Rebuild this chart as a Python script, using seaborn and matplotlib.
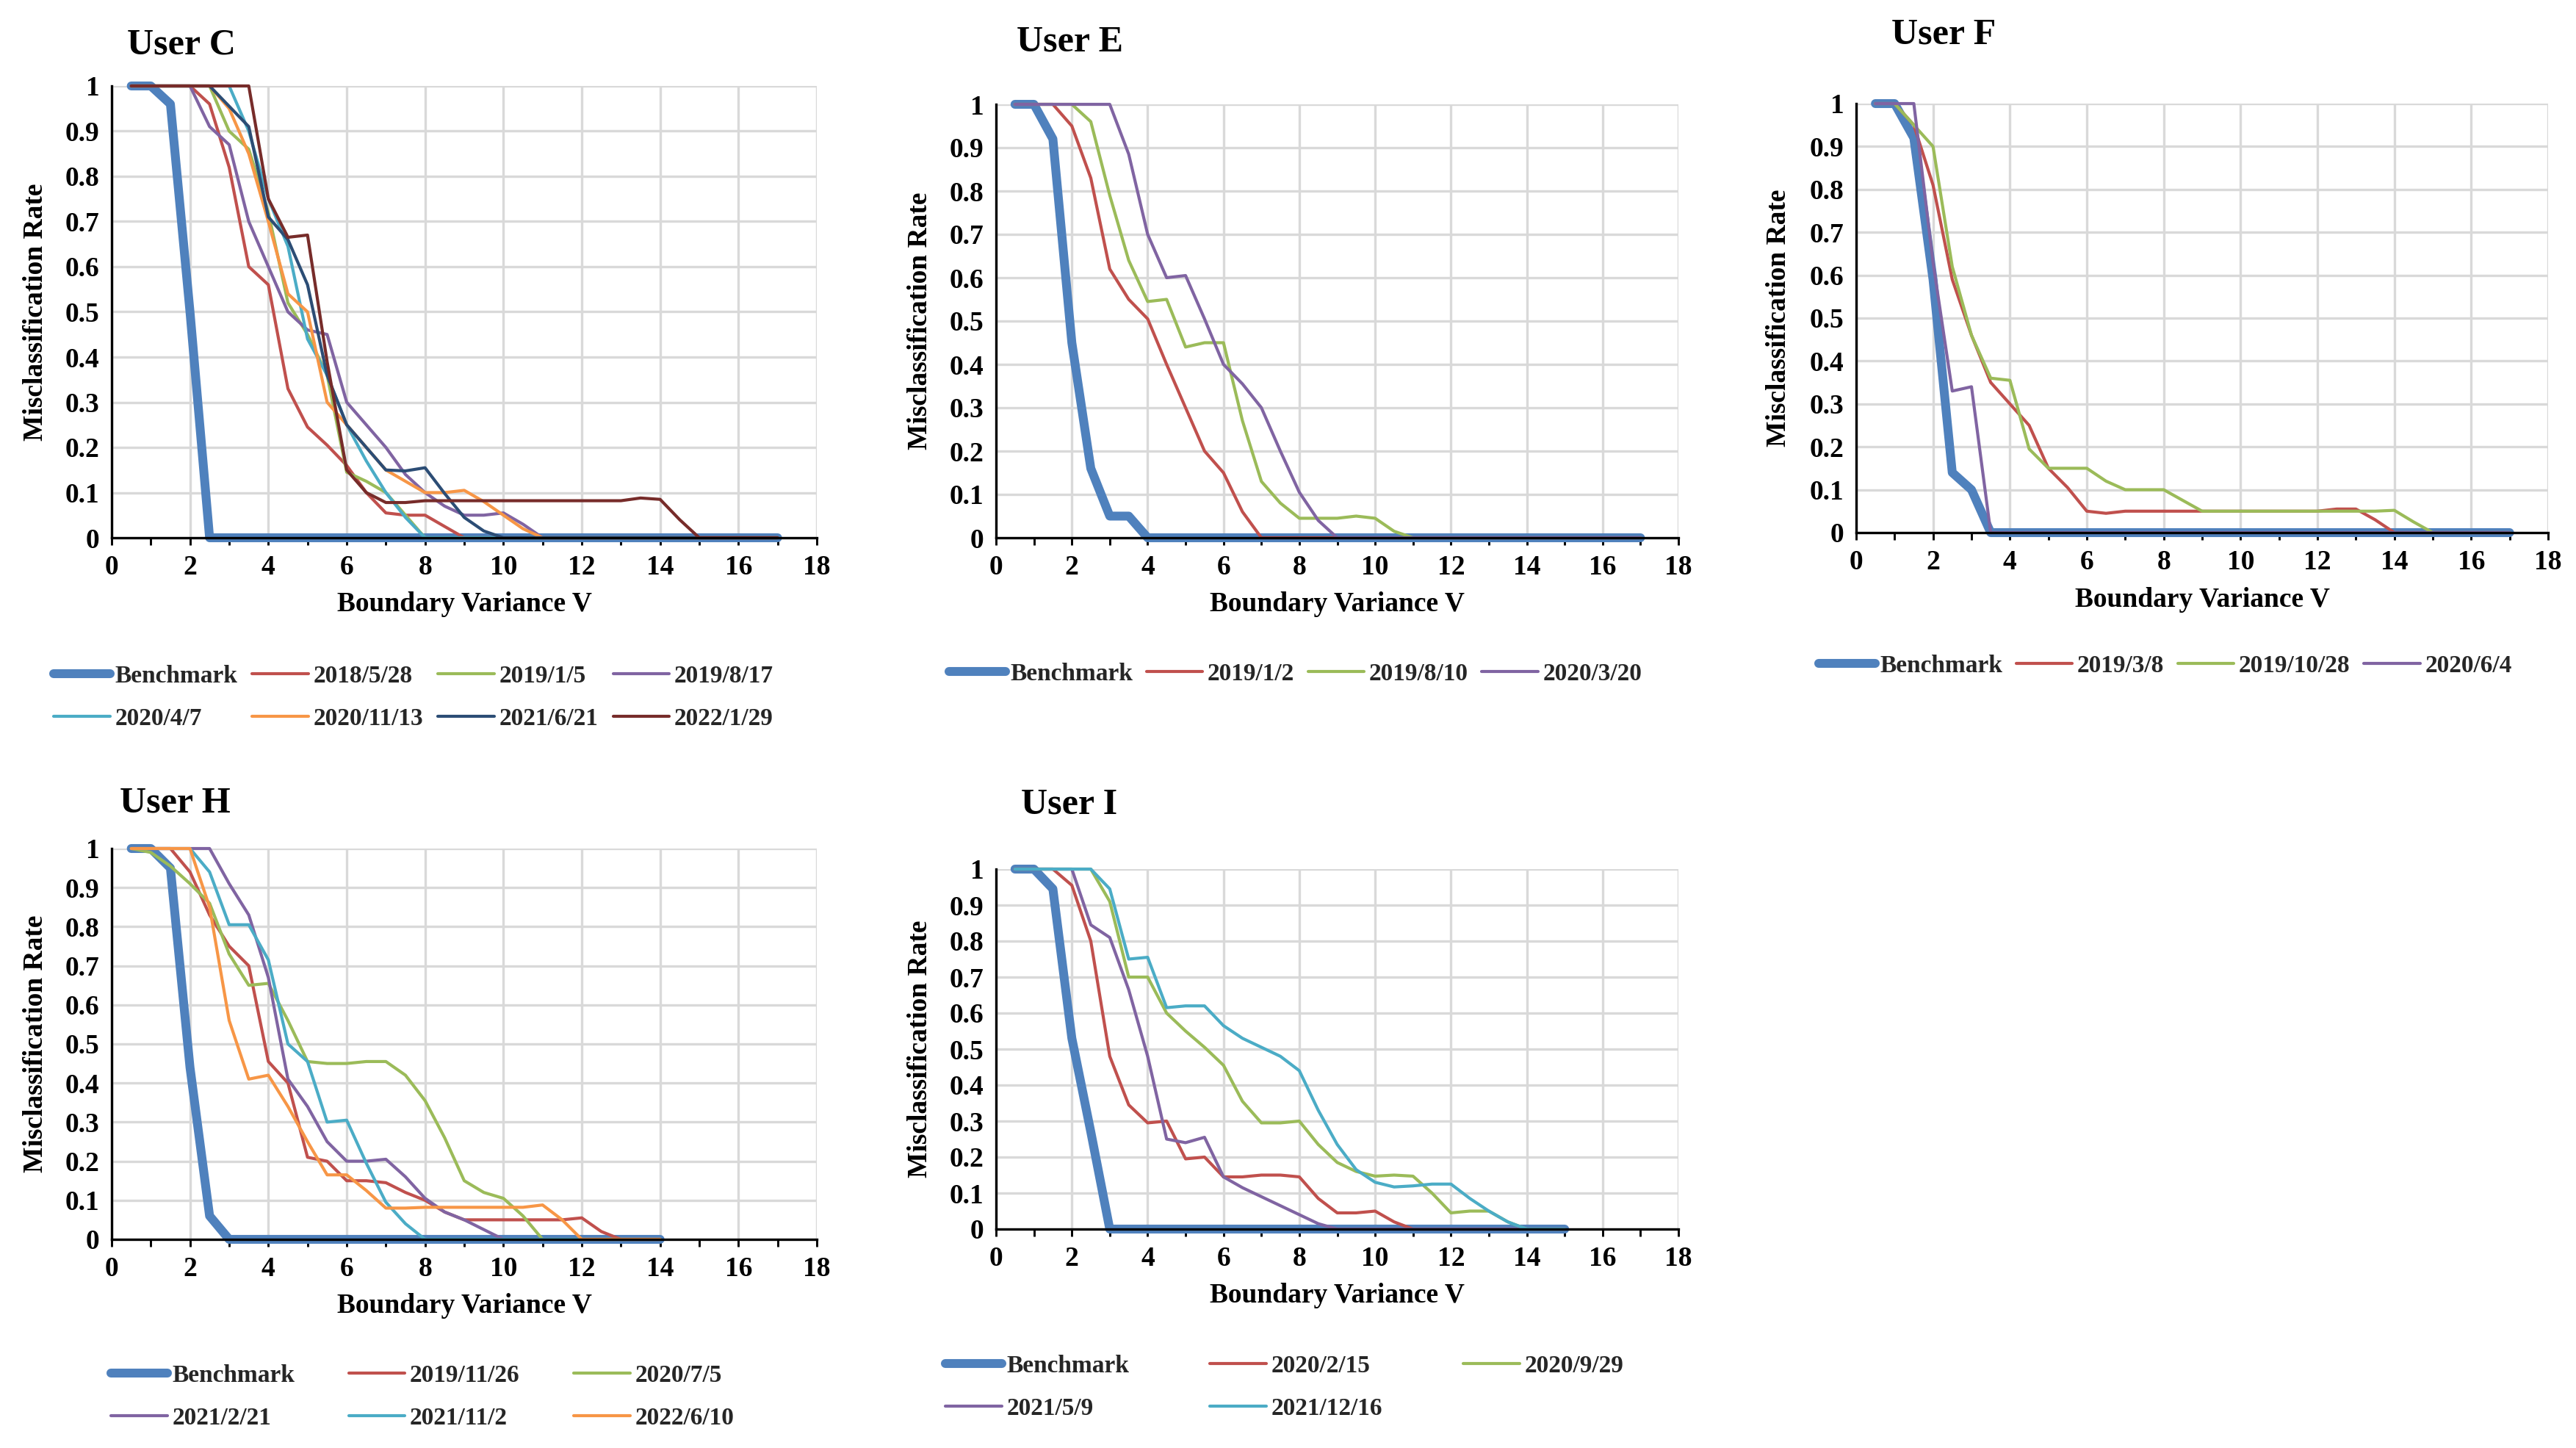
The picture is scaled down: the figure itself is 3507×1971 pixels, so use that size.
import numpy as np
import matplotlib
matplotlib.use("Agg")
import matplotlib.pyplot as plt
import seaborn as sns

# ---------------- data ----------------
X_C = np.arange(0.5, 17.01, 0.5)
X_E = np.arange(0.5, 17.01, 0.5)
X_F = np.arange(0.5, 17.01, 0.5)
X_H = np.arange(0.5, 14.01, 0.5)
X_I = np.arange(0.5, 15.01, 0.5)

# User C
C_names = ["Benchmark", "2018/5/28", "2019/1/5", "2019/8/17",
           "2020/4/7", "2020/11/13", "2021/6/21", "2022/1/29"]
C_bench = [1, 1, 0.96, 0.5, 0, 0, 0, 0, 0, 0,
           0, 0, 0, 0, 0, 0, 0, 0, 0, 0,
           0, 0, 0, 0, 0, 0, 0, 0, 0, 0,
           0, 0, 0, 0]
C_2018_5_28 = [1, 1, 1, 1, 0.96, 0.82, 0.6, 0.56, 0.33, 0.245,
               0.205, 0.16, 0.1, 0.055, 0.05, 0.05, 0.025, 0, 0, 0,
               0, 0, 0, 0, 0, 0, 0, 0, 0, 0,
               0, 0, 0, 0]
C_2019_1_5 = [1, 1, 1, 1, 1, 0.9, 0.86, 0.72, 0.52, 0.45,
              0.36, 0.145, 0.125, 0.1, 0.05, 0, 0, 0, 0, 0,
              0, 0, 0, 0, 0, 0, 0, 0, 0, 0,
              0, 0, 0, 0]
C_2019_8_17 = [1, 1, 1, 1, 0.91, 0.87, 0.7, 0.6, 0.5, 0.46,
               0.45, 0.3, 0.25, 0.2, 0.14, 0.1, 0.07, 0.05, 0.05, 0.055,
               0.03, 0, 0, 0, 0, 0, 0, 0, 0, 0,
               0, 0, 0, 0]
C_2020_4_7 = [1, 1, 1, 1, 1, 1, 0.9, 0.75, 0.645, 0.44,
              0.36, 0.25, 0.17, 0.1, 0.045, 0, 0, 0, 0, 0,
              0, 0, 0, 0, 0, 0, 0, 0, 0, 0,
              0, 0, 0, 0]
C_2020_11_13 = [1, 1, 1, 1, 1, 0.95, 0.85, 0.7, 0.54, 0.5,
                0.3, 0.25, 0.2, 0.15, 0.125, 0.1, 0.1, 0.105, 0.08, 0.05,
                0.02, 0, 0, 0, 0, 0, 0, 0, 0, 0,
                0, 0, 0, 0]
C_2021_6_21 = [1, 1, 1, 1, 1, 0.955, 0.91, 0.71, 0.66, 0.56,
               0.36, 0.25, 0.2, 0.15, 0.148, 0.155, 0.098, 0.045, 0.015, 0,
               0, 0, 0, 0, 0, 0, 0, 0, 0, 0,
               0, 0, 0, 0]
C_2022_1_29 = [1, 1, 1, 1, 1, 1, 1, 0.75, 0.665, 0.67,
               0.39, 0.15, 0.1, 0.078, 0.078, 0.082, 0.082, 0.082, 0.082, 0.082,
               0.082, 0.082, 0.082, 0.082, 0.082, 0.082, 0.088, 0.085, 0.04, 0,
               0, 0, 0, 0]

# User E
E_names = ["Benchmark", "2019/1/2", "2019/8/10", "2020/3/20"]
E_bench = [1, 1, 0.92, 0.45, 0.16, 0.05, 0.05, 0, 0, 0,
           0, 0, 0, 0, 0, 0, 0, 0, 0, 0,
           0, 0, 0, 0, 0, 0, 0, 0, 0, 0,
           0, 0, 0, 0]
E_2019_1_2 = [1, 1, 1, 0.95, 0.83, 0.62, 0.55, 0.505, 0.4, 0.3,
              0.2, 0.15, 0.06, 0, 0, 0, 0, 0, 0, 0,
              0, 0, 0, 0, 0, 0, 0, 0, 0, 0,
              0, 0, 0, 0]
E_2019_8_10 = [1, 1, 1, 1, 0.96, 0.79, 0.64, 0.545, 0.55, 0.44,
               0.45, 0.45, 0.27, 0.13, 0.08, 0.045, 0.045, 0.045, 0.05, 0.045,
               0.015, 0, 0, 0, 0, 0, 0, 0, 0, 0,
               0, 0, 0, 0]
E_2020_3_20 = [1, 1, 1, 1, 1, 1, 0.885, 0.7, 0.6, 0.605,
               0.505, 0.4, 0.355, 0.3, 0.2, 0.105, 0.04, 0, 0, 0,
               0, 0, 0, 0, 0, 0, 0, 0, 0, 0,
               0, 0, 0, 0]

# User F
F_names = ["Benchmark", "2019/3/8", "2019/10/28", "2020/6/4"]
F_bench = [1, 1, 0.92, 0.59, 0.14, 0.1, 0, 0, 0, 0,
           0, 0, 0, 0, 0, 0, 0, 0, 0, 0,
           0, 0, 0, 0, 0, 0, 0, 0, 0, 0,
           0, 0, 0, 0]
F_2019_3_8 = [1, 1, 0.95, 0.81, 0.59, 0.46, 0.35, 0.3, 0.25, 0.15,
              0.105, 0.05, 0.045, 0.05, 0.05, 0.05, 0.05, 0.05, 0.05, 0.05,
              0.05, 0.05, 0.05, 0.05, 0.055, 0.055, 0.03, 0, 0, 0,
              0, 0, 0, 0]
F_2019_10_28 = [1, 1, 0.95, 0.9, 0.62, 0.46, 0.36, 0.355, 0.195, 0.15,
                0.15, 0.15, 0.12, 0.1, 0.1, 0.1, 0.075, 0.05, 0.05, 0.05,
                0.05, 0.05, 0.05, 0.05, 0.05, 0.05, 0.05, 0.052, 0.025, 0,
                0, 0, 0, 0]
F_2020_6_4 = [1, 1, 1, 0.63, 0.33, 0.34, 0, 0, 0, 0,
              0, 0, 0, 0, 0, 0, 0, 0, 0, 0,
              0, 0, 0, 0, 0, 0, 0, 0, 0, 0,
              0, 0, 0, 0]

# User H
H_names = ["Benchmark", "2019/11/26", "2020/7/5", "2021/2/21", "2021/11/2", "2022/6/10"]
H_bench = [1, 1, 0.95, 0.44, 0.06, 0, 0, 0, 0, 0,
           0, 0, 0, 0, 0, 0, 0, 0, 0, 0,
           0, 0, 0, 0, 0, 0, 0, 0]
H_2019_11_26 = [1, 1, 1, 0.94, 0.83, 0.75, 0.7, 0.455, 0.4, 0.21,
                0.2, 0.15, 0.15, 0.145, 0.12, 0.1, 0.07, 0.05, 0.05, 0.05,
                0.05, 0.05, 0.05, 0.055, 0.02, 0, 0, 0]
H_2020_7_5 = [1, 0.99, 0.955, 0.91, 0.86, 0.73, 0.65, 0.655, 0.56, 0.455,
              0.45, 0.45, 0.455, 0.455, 0.42, 0.355, 0.26, 0.15, 0.12, 0.105,
              0.06, 0, 0, 0, 0, 0, 0, 0]
H_2021_2_21 = [1, 1, 1, 1, 1, 0.91, 0.83, 0.67, 0.41, 0.34,
               0.25, 0.2, 0.2, 0.205, 0.16, 0.105, 0.07, 0.05, 0.025, 0,
               0, 0, 0, 0, 0, 0, 0, 0]
H_2021_11_2 = [1, 1, 1, 1, 0.94, 0.805, 0.805, 0.715, 0.5, 0.455,
               0.3, 0.305, 0.195, 0.095, 0.04, 0, 0, 0, 0, 0,
               0, 0, 0, 0, 0, 0, 0, 0]
H_2022_6_10 = [1, 1, 1, 1, 0.85, 0.56, 0.41, 0.42, 0.34, 0.25,
               0.165, 0.165, 0.125, 0.08, 0.08, 0.082, 0.082, 0.082, 0.082, 0.082,
               0.082, 0.088, 0.05, 0, 0, 0, 0, 0]

# User I
I_names = ["Benchmark", "2020/2/15", "2020/9/29", "2021/5/9", "2021/12/16"]
I_bench = [1, 1, 0.945, 0.53, 0.27, 0, 0, 0, 0, 0,
           0, 0, 0, 0, 0, 0, 0, 0, 0, 0,
           0, 0, 0, 0, 0, 0, 0, 0, 0, 0]
I_2020_2_15 = [1, 1, 1, 0.955, 0.8, 0.48, 0.345, 0.295, 0.3, 0.195,
               0.2, 0.145, 0.145, 0.15, 0.15, 0.145, 0.085, 0.045, 0.045, 0.05,
               0.02, 0, 0, 0, 0, 0, 0, 0, 0, 0]
I_2020_9_29 = [1, 1, 1, 1, 1, 0.91, 0.7, 0.7, 0.6, 0.55,
               0.505, 0.455, 0.355, 0.295, 0.295, 0.3, 0.235, 0.185, 0.16, 0.147,
               0.15, 0.147, 0.1, 0.045, 0.05, 0.05, 0.02, 0, 0, 0]
I_2021_5_9 = [1, 1, 1, 1, 0.845, 0.81, 0.665, 0.48, 0.25, 0.24,
              0.255, 0.145, 0.115, 0.09, 0.065, 0.04, 0.015, 0, 0, 0,
              0, 0, 0, 0, 0, 0, 0, 0, 0, 0]
I_2021_12_16 = [1, 1, 1, 1, 1, 0.945, 0.75, 0.755, 0.615, 0.62,
                0.62, 0.565, 0.53, 0.505, 0.48, 0.44, 0.33, 0.235, 0.165, 0.13,
                0.117, 0.12, 0.125, 0.125, 0.085, 0.05, 0.02, 0, 0, 0]

X_TICKS = [0, 2, 4, 6, 8, 10, 12, 14, 16, 18]
Y_TICKS = [0, 0.1, 0.2, 0.3, 0.4, 0.5, 0.6, 0.7, 0.8, 0.9, 1]
Y_TICK_LABELS = ["0", "0.1", "0.2", "0.3", "0.4", "0.5", "0.6", "0.7", "0.8", "0.9", "1"]

BLUE, RED, GREEN, PURPLE = "#4F81BD", "#C0504D", "#9BBB59", "#8064A2"
CYAN, ORANGE, NAVY, DARKRED = "#4BACC6", "#F79646", "#2C4D75", "#772C2A"

# ---------------- style ----------------
sns.set_theme(style="white")
plt.rcParams["font.family"] = ["Liberation Serif", "DejaVu Serif"]
plt.rcParams["font.weight"] = "bold"
plt.rcParams["axes.labelweight"] = "bold"

W, H = 3507, 1971
fig = plt.figure(figsize=(W / 300, H / 300), dpi=300)
fig.patch.set_facecolor("white")


def px_rect(l, t, r, b):
    return [l / W, 1 - b / H, (r - l) / W, (b - t) / H]


panels = [
    dict(title="User C", tpos=(173, 61), rect=px_rect(152, 117, 1112, 732),
         x=X_C, names=C_names,
         ys=[C_bench, C_2018_5_28, C_2019_1_5, C_2019_8_17, C_2020_4_7,
             C_2020_11_13, C_2021_6_21, C_2022_1_29],
         colors=[BLUE, RED, GREEN, PURPLE, CYAN, ORANGE, NAVY, DARKRED],
         ylab=-0.0896, xlab=-0.1187,
         leg=dict(pos=(73, 905), ncol=4, order=[0, 4, 1, 5, 2, 6, 3, 7], cs=0.6)),
    dict(title="User E", tpos=(1384, 57), rect=px_rect(1356, 142, 2285, 732),
         x=X_E, names=E_names,
         ys=[E_bench, E_2019_1_2, E_2019_8_10, E_2020_3_20],
         colors=[BLUE, RED, GREEN, PURPLE],
         ylab=-0.0926, xlab=-0.1237,
         leg=dict(pos=(1292, 902), ncol=4, order=[0, 1, 2, 3], cs=0.55)),
    dict(title="User F", tpos=(2575, 48), rect=px_rect(2527, 141, 3469, 725),
         x=X_F, names=F_names,
         ys=[F_bench, F_2019_3_8, F_2019_10_28, F_2020_6_4],
         colors=[BLUE, RED, GREEN, PURPLE],
         ylab=-0.0934, xlab=-0.1267,
         leg=dict(pos=(2476, 891), ncol=4, order=[0, 1, 2, 3], cs=0.55)),
    dict(title="User H", tpos=(163, 1093), rect=px_rect(152, 1155, 1112, 1687),
         x=X_H, names=H_names,
         ys=[H_bench, H_2019_11_26, H_2020_7_5, H_2021_2_21, H_2021_11_2, H_2022_6_10],
         colors=[BLUE, RED, GREEN, PURPLE, CYAN, ORANGE],
         ylab=-0.0896, xlab=-0.137,
         leg=dict(pos=(151, 1857), ncol=3, order=[0, 3, 1, 4, 2, 5], cs=2.2)),
    dict(title="User I", tpos=(1390, 1096), rect=px_rect(1356, 1183, 2285, 1673),
         x=X_I, names=I_names,
         ys=[I_bench, I_2020_2_15, I_2020_9_29, I_2021_5_9, I_2021_12_16],
         colors=[BLUE, RED, GREEN, PURPLE, CYAN],
         ylab=-0.0926, xlab=-0.149,
         leg=dict(pos=(1287, 1844), ncol=3, order=[0, 3, 1, 4, 2], cs=3.3)),
]

FS = 9
LFS = 8
for p in panels:
    ax = fig.add_axes(p["rect"])
    for i, (name, yv, col) in enumerate(zip(p["names"], p["ys"], p["colors"])):
        assert len(yv) == len(p["x"]), (p["title"], name, len(yv))
        sns.lineplot(x=p["x"], y=yv, ax=ax, color=col,
                     linewidth=2.9 if i == 0 else 1.0, label=name,
                     estimator=None, sort=False)
    for ln in ax.lines:
        ln.set_clip_on(False)
        ln.set_solid_joinstyle("round")
        ln.set_solid_capstyle("round")
    ax.set_xlim(0, 18)
    ax.set_ylim(0, 1)
    ax.set_xticks(X_TICKS)
    ax.set_xticks(range(0, 19), minor=True)
    ax.set_yticks(Y_TICKS)
    ax.set_yticklabels(Y_TICK_LABELS)
    ax.set_axisbelow(True)
    ax.grid(True, which="major", color="#D9D9D9", linewidth=0.8)
    ax.tick_params(axis="x", which="both", direction="out", length=2.5, width=0.7,
                   colors="black", bottom=True, labelsize=FS, pad=3)
    ax.tick_params(axis="x", which="minor", labelbottom=False)
    ax.tick_params(axis="y", length=0, labelsize=FS, pad=4, colors="black")
    for lab in ax.get_xticklabels() + ax.get_yticklabels():
        lab.set_fontweight("bold")
    for s in ["top", "right"]:
        ax.spines[s].set_visible(False)
    for s in ["left", "bottom"]:
        ax.spines[s].set_color("black")
        ax.spines[s].set_linewidth(0.8)
    ax.set_xlabel("Boundary Variance V", fontsize=FS, fontweight="bold", color="black")
    ax.set_ylabel("Misclassification Rate", fontsize=FS, fontweight="bold", color="black")
    ax.yaxis.set_label_coords(p["ylab"], 0.5)
    ax.xaxis.set_label_coords(0.5, p["xlab"])

    handles, labels = ax.get_legend_handles_labels()
    if ax.get_legend() is not None:
        ax.get_legend().remove()
    lg = p["leg"]
    ax.legend([handles[k] for k in lg["order"]], [labels[k] for k in lg["order"]],
              loc="upper left", bbox_to_anchor=(lg["pos"][0] / W, 1 - lg["pos"][1] / H),
              bbox_transform=fig.transFigure, ncol=lg["ncol"], frameon=False,
              prop=dict(size=LFS, weight="bold"), handlelength=2.3, handletextpad=0.2,
              columnspacing=lg["cs"], borderaxespad=0, borderpad=0, labelspacing=0.8)

    fig.text(p["tpos"][0] / W, 1 - p["tpos"][1] / H, p["title"], fontsize=12,
             fontweight="bold", ha="left", va="center", color="black")

fig.savefig("out.png", dpi=300, facecolor="white")
